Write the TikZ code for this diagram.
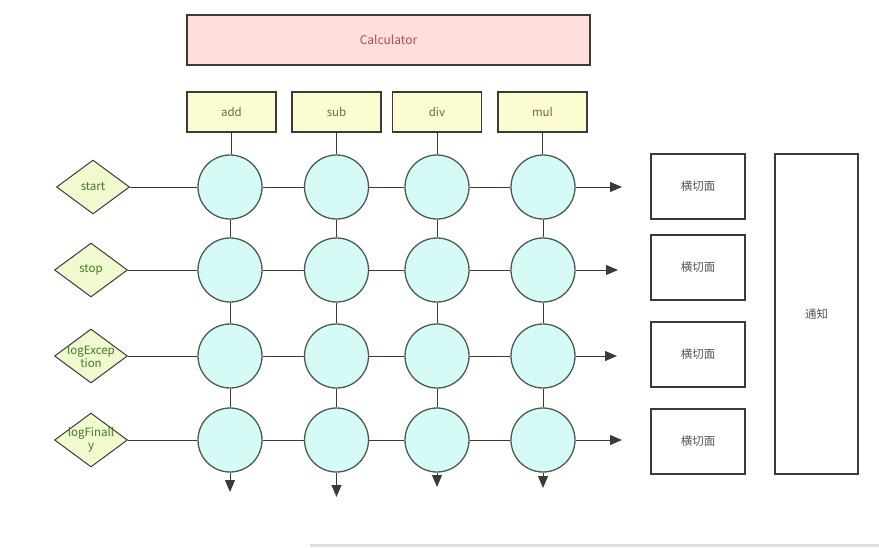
\documentclass[tikz,border=0pt]{standalone}
\usepackage{fontspec}
\setmainfont{Noto Sans CJK SC}
\usetikzlibrary{shapes.geometric,arrows.meta}
\definecolor{calcfill}{HTML}{FFDEDC}
\definecolor{calctext}{HTML}{A0524E}
\definecolor{opfill}{HTML}{FDFDD2}
\definecolor{optext}{HTML}{6F6A2A}
\definecolor{dfill}{HTML}{F1F9CF}
\definecolor{dtext}{HTML}{3F7A2A}
\definecolor{cfill}{HTML}{D6FBF6}
\definecolor{cline}{HTML}{4A5A50}
\definecolor{edge}{HTML}{3A3A3A}
\definecolor{gtext}{HTML}{555555}
\begin{document}
\begin{tikzpicture}[x=1pt,y=-1pt,
  box/.style={draw=edge,line width=1.1pt,rectangle,inner sep=0pt,font=\fontsize{11.5}{13}\selectfont},
  calc/.style={box,fill=calcfill,text=calctext,minimum width=403pt,minimum height=50pt,font=\fontsize{12}{14}\selectfont},
  op/.style={box,fill=opfill,text=optext,minimum width=89pt,minimum height=40pt},
  dia/.style={diamond,draw=edge,line width=1pt,fill=dfill,inner sep=0pt,minimum width=73pt,minimum height=54pt,aspect=1.35},
  dlab/.style={label={[text=dtext,font=\fontsize{11.5}{13}\selectfont,align=center,inner sep=0pt]center:#1}},
  jp/.style={circle,draw=cline,line width=1.3pt,fill=cfill,minimum size=64pt,inner sep=0pt},
  cut/.style={box,fill=white,text=gtext,minimum width=94pt,minimum height=65pt},
  conn/.style={draw=edge,line width=1pt},
  arr/.style={conn,-{Triangle[length=12pt,width=10pt]}}]
\useasboundingbox (0,0) rectangle (879,547);
\node[calc] (calc) at (388.5,40) {Calculator};
\node[op] (add) at (231.5,112) {add};
\node[op] (sub) at (336.5,112) {sub};
\node[op] (div) at (437,112) {div};
\node[op] (mul) at (542.5,112) {mul};
\node[dia,dlab={start}] (d1) at (93,187) {};
\node[dia,dlab={stop}] (d2) at (91,270) {};
\node[dia,dlab={logExcep\\tion}] (d3) at (91,356) {};
\node[dia,dlab={logFinall\\y}] (d4) at (91,440) {};
% circles
\foreach \r/\y in {1/187,2/270,3/356,4/440}{
  \node[jp] (c\r1) at (230,\y) {};
  \node[jp] (c\r2) at (336.5,\y) {};
  \node[jp] (c\r3) at (437,\y) {};
  \node[jp] (c\r4) at (543,\y) {};
}
\node[cut] (h1) at (698,186.5) {横切面};
\node[cut] (h2) at (698,267.5) {横切面};
\node[cut] (h3) at (698,354.5) {横切面};
\node[cut] (h4) at (698,441.5) {横切面};
\node[box,fill=white,text=gtext,minimum width=83pt,minimum height=320pt] (tz) at (816.5,314) {通知};
% coordinates for arrow ends
\coordinate (r1) at (622,187);
\coordinate (r2) at (618,270);
\coordinate (r3) at (617,356);
\coordinate (r4) at (622,440);
\coordinate (b1) at (230,492);
\coordinate (b2) at (336.5,497);
\coordinate (b3) at (437,487);
\coordinate (b4) at (543,488);
% verticals from ops
\draw[conn] (add.south) -- (add.south |- c11.north);
\draw[conn] (sub.south) -- (sub.south |- c12.north);
\draw[conn] (div.south) -- (div.south |- c13.north);
\draw[conn] (mul.south) -- (mul.south |- c14.north);
\foreach \c in {1,2,3,4}{
  \draw[conn] (c1\c) -- (c2\c);
  \draw[conn] (c2\c) -- (c3\c);
  \draw[conn] (c3\c) -- (c4\c);
}
\draw[arr] (c41.south) -- (b1);
\draw[arr] (c42.south) -- (b2);
\draw[arr] (c43.south) -- (b3);
\draw[arr] (c44.south) -- (b4);
\foreach \r in {1,2,3,4}{
  \draw[conn] (d\r.east) -- (c\r1);
  \draw[conn] (c\r1) -- (c\r2);
  \draw[conn] (c\r2) -- (c\r3);
  \draw[conn] (c\r3) -- (c\r4);
  \draw[arr] (c\r4.east) -- (r\r);
}
\draw[draw=black!12,line width=3pt] (310,545.5) -- (879,545.5);
\end{tikzpicture}
\end{document}
